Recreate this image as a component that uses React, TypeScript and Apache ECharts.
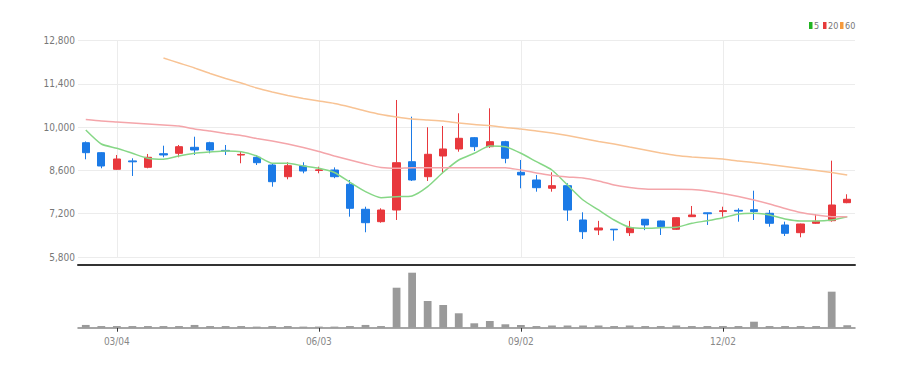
import React, { useEffect, useRef } from "react";
import * as echarts from "echarts";

const dates = [
  "02/19", "02/26", "03/04", "03/11", "03/18", "03/25", "04/01", "04/08", "04/15", "04/22",
  "04/29", "05/06", "05/13", "05/20", "05/27", "06/03", "06/10", "06/17", "06/24", "07/01",
  "07/08", "07/15", "07/22", "07/29", "08/05", "08/12", "08/19", "08/26", "09/02", "09/09",
  "09/16", "09/23", "09/30", "10/07", "10/14", "10/21", "10/28", "11/04", "11/11", "11/18",
  "11/25", "12/02", "12/09", "12/16", "12/23", "12/30", "01/06", "01/13", "01/20", "01/27",
];
const tickDates = ["03/04", "06/03", "09/02", "12/02"];
const yTickLabels = ["5,800", "7,200", "8,600", "10,000", "11,400", "12,800"];
const yMin = 5800;
const yMax = 12800;

const opens = [
  9499, 9176, 8638, 8910, 8703, 9143, 9156, 9350, 9499, 9250,
  9100, 9027, 8777, 8399, 8745, 8600, 8616, 8153, 7344, 6943,
  7321, 8884, 8399, 9069, 9296, 9661, 9370, 9532, 8541, 8292,
  8024, 8108, 6998, 6674, 6700, 6587, 7021, 6966, 6697, 7105,
  7230, 7270, 7310, 7330, 7215, 6836, 6587, 6891, 6975, 7558,
];
const closes = [
  9176, 8745, 8972, 8880, 9027, 9101, 9370, 9263, 9263, 9230,
  9120, 8852, 8237, 8755, 8583, 8620, 8399, 7376, 6910, 7321,
  8852, 8292, 9124, 9296, 9642, 9370, 9532, 8994, 8455, 8043,
  8108, 7321, 6619, 6740, 6680, 6749, 6837, 6781, 7072, 7160,
  7200, 7300, 7285, 7270, 6891, 6567, 6868, 6956, 7483, 7668,
];
const lows = [
  8962, 8671, 8620, 8422, 8671, 9027, 9027, 9101, 9156, 9101,
  8833, 8777, 8075, 8315, 8509, 8509, 8350, 7105, 6600, 6910,
  6998, 8260, 8260, 8509, 9208, 9231, 9330, 8833, 8024, 7914,
  7914, 6970, 6383, 6510, 6328, 6480, 6669, 6512, 6680, 7100,
  6837, 7105, 6943, 6998, 6780, 6480, 6438, 6868, 6943, 7540,
];
const highs = [
  9540, 9190, 9101, 8994, 9134, 9402, 9425, 9693, 9530, 9425,
  9208, 9101, 8833, 8865, 8865, 8723, 8700, 8292, 7428, 7376,
  10881, 10341, 9998, 10040, 10451, 9680, 10612, 9560, 8940, 8455,
  8541, 8186, 7247, 6970, 6700, 6970, 7030, 6980, 7090, 7451,
  7235, 7428, 7376, 7946, 7321, 6943, 6880, 7182, 8917, 7830,
];

const ma5 = [
  9910, 9457, 9318, 9156, 8994, 8962, 9069, 9156, 9198, 9231,
  9208, 9069, 8833, 8833, 8745, 8671, 8535, 8218, 7914, 7719,
  7752, 7775, 8075, 8541, 8939, 9156, 9392, 9370, 9156, 8884,
  8616, 8130, 7645, 7322, 6998, 6762, 6729, 6749, 6762, 6891,
  6975, 7072, 7192, 7215, 7160, 7030, 6965, 6965, 6998, 7105,
];
const ma20 = [
  10250, 10201, 10169, 10137, 10104, 10072, 10040, 9943, 9878, 9797,
  9732, 9635, 9554, 9457, 9344, 9215, 9069, 8939, 8810, 8697,
  8671, 8690, 8690, 8690, 8690, 8690, 8690, 8690, 8616, 8519,
  8438, 8389, 8357, 8260, 8130, 8050, 8001, 7991, 7991, 7985,
  7936, 7855, 7758, 7645, 7516, 7370, 7241, 7160, 7105, 7105,
];
const ma60: (number | string)[] = [
  "-", "-", "-", "-", "-", 12240, 12078, 11917, 11739, 11577,
  11431, 11269, 11140, 11027, 10930, 10849, 10768, 10655, 10525, 10412,
  10331, 10266, 10234, 10201, 10137, 10088, 10056, 9991, 9943, 9878,
  9813, 9732, 9635, 9538, 9457, 9360, 9263, 9166, 9085, 9037,
  9004, 8972, 8907, 8859, 8794, 8729, 8664, 8600, 8535, 8454,
];
const volumes = [
  5, 3, 3, 3, 3, 3, 3, 5, 3, 3,
  3, 2, 3, 3, 2, 2, 2, 3, 5, 3,
  72.7, 100, 48.5, 41.3, 26.2, 8, 12.2, 6.2, 4.9, 3,
  4, 4, 4, 4, 3, 4, 3, 3, 4, 3,
  3, 3, 3, 10.9, 3, 3, 3, 3, 65.5, 4.5,
];
const volMax = 114;

const maNames = ["5", "20", "60"];
const maLegendColors = ["#22b422", "#e63a3a", "#f59a3c"];
const maLineColors = ["#86d786", "#f4a5aa", "#f8c394"];

const FONT = '"Liberation Sans Narrow", "DejaVu Sans Condensed", sans-serif';
const UP = "#e8383d";
const DOWN = "#1b7ae6";

const showTick = (_i: number, v: string) => tickDates.includes(v);

export default function App() {
  const ref = useRef<HTMLDivElement>(null);
  useEffect(() => {
    if (!ref.current) return;
    const chart = echarts.init(ref.current, undefined, { renderer: "svg" });
    const candleData = dates.map((_, i) => [opens[i], closes[i], lows[i], highs[i]]);
    const maSeries = [ma5, ma20, ma60];

    const legendGraphics: any[] = [];
    const legendX = [809, 823, 840];
    maNames.forEach((n, i) => {
      legendGraphics.push({
        type: "rect",
        shape: { x: legendX[i], y: 22, width: 3.5, height: 7 },
        style: { fill: maLegendColors[i] },
        silent: true,
      });
      legendGraphics.push({
        type: "text",
        x: legendX[i] + 5,
        y: 25.7,
        style: {
          text: n,
          fill: "#777",
          font: `9px ${FONT}`,
          verticalAlign: "middle",
          align: "left",
        },
        silent: true,
      });
    });

    chart.setOption({
      animation: false,
      backgroundColor: "#fff",
      textStyle: { fontFamily: FONT },
      grid: [
        { left: 78, right: 54, top: 40.7, height: 216.3 },
        { left: 78, right: 54, top: 265, height: 62.7 },
      ],
      xAxis: [
        {
          type: "category",
          gridIndex: 0,
          data: dates,
          boundaryGap: true,
          axisLine: { show: false },
          axisTick: { show: false },
          axisLabel: { show: false },
          splitLine: {
            show: true,
            interval: showTick,
            alignWithLabel: true,
            lineStyle: { color: "#ececec", width: 1 },
          } as any,
        },
        {
          type: "category",
          gridIndex: 1,
          data: dates,
          boundaryGap: true,
          position: "bottom",
          axisLine: { show: true, lineStyle: { color: "#888", width: 1.5 } },
          axisTick: {
            show: true,
            interval: showTick,
            alignWithLabel: true,
            length: 4,
            lineStyle: { color: "#333" },
          },
          axisLabel: {
            show: true,
            interval: showTick,
            color: "#888",
            fontSize: 10,
            fontFamily: FONT,
            margin: 9,
          },
          splitLine: { show: false },
        },
        {
          type: "category",
          gridIndex: 1,
          data: dates,
          boundaryGap: true,
          position: "top",
          axisLine: { show: true, lineStyle: { color: "#333", width: 2 } },
          axisTick: { show: false },
          axisLabel: { show: false },
          splitLine: { show: false },
        },
      ],
      yAxis: [
        {
          type: "value",
          gridIndex: 0,
          position: "right",
          min: yMin,
          max: yMax,
          show: false,
          splitLine: { show: false },
        },
        {
          type: "category",
          gridIndex: 0,
          position: "left",
          data: yTickLabels,
          boundaryGap: false,
          axisLine: { show: false },
          axisTick: { show: false },
          axisLabel: {
            show: true,
            interval: 0,
            color: "#777",
            fontSize: 10,
            fontFamily: FONT,
            margin: 3,
          },
          splitLine: { show: true, interval: 0, lineStyle: { color: "#ececec", width: 1 } },
        },
        {
          type: "value",
          gridIndex: 1,
          position: "left",
          min: 0,
          max: volMax,
          show: false,
          splitLine: { show: false },
        },
      ],
      series: [
        {
          type: "candlestick",
          name: "price",
          xAxisIndex: 0,
          yAxisIndex: 0,
          data: candleData,
          barWidth: "50%",
          itemStyle: {
            color: UP,
            color0: DOWN,
            borderColor: UP,
            borderColor0: DOWN,
            borderWidth: 1,
          },
          z: 3,
        },
        ...maSeries.map((d, i) => ({
          type: "line",
          name: maNames[i],
          xAxisIndex: 0,
          yAxisIndex: 0,
          data: d,
          showSymbol: false,
          symbol: "none",
          smooth: 0.2,
          color: maLegendColors[i],
          lineStyle: { color: maLineColors[i], width: 1.5 },
          z: 4,
        })),
        {
          type: "bar",
          name: "volume",
          xAxisIndex: 1,
          yAxisIndex: 2,
          data: volumes,
          barWidth: "50%",
          itemStyle: { color: "#9a9a9a" },
        },
      ],
      graphic: legendGraphics,
    });
    return () => chart.dispose();
  }, []);
  return (
    <div
      ref={ref}
      style={{ position: "fixed", left: 0, top: 0, width: 909, height: 368, background: "#fff" }}
    />
  );
}
